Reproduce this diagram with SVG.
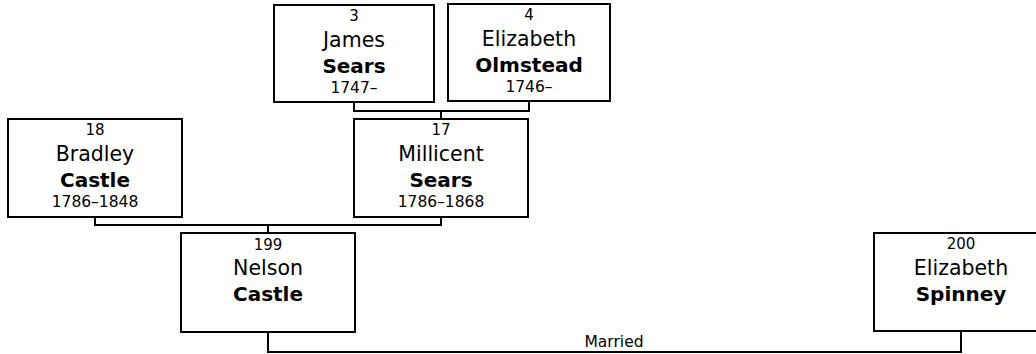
<svg xmlns="http://www.w3.org/2000/svg" width="1036" height="354" viewBox="0 0 1036 354">
<style>
.box{fill:#fff;stroke:#000;stroke-width:2}
.con{fill:none;stroke:#000;stroke-width:2}
text{font-family:"DejaVu Sans","Liberation Sans",sans-serif;fill:#000;text-anchor:middle}
.num{font-size:15px}
.fn{font-size:20.5px}
.sn{font-size:20px;font-weight:bold}
.dt{font-size:15.5px}
.lbl{font-size:15.5px}
</style>
<rect width="1036" height="354" fill="#fff"/>
<g id="connectors">
<polyline class="con" points="354,102 354,111 529,111 529,101"/>
<line class="con" x1="441" y1="111" x2="441" y2="119"/>
<polyline class="con" points="95,217 95,225 441,225 441,217"/>
<line class="con" x1="268" y1="225" x2="268" y2="233"/>
<polyline class="con" points="268,332 268,352 961,352 961,331"/>
<text class="lbl" x="614" y="347">Married</text>
</g>
<g id="p3">
<rect class="box" x="274" y="5" width="160" height="97"/>
<text class="num" x="354" y="21">3</text>
<text class="fn" x="354" y="47">James</text>
<text class="sn" x="354" y="73">Sears</text>
<text class="dt" x="354" y="93">1747–</text>
</g>
<g id="p4">
<rect class="box" x="448" y="4" width="162" height="97"/>
<text class="num" x="529" y="20">4</text>
<text class="fn" x="529" y="46">Elizabeth</text>
<text class="sn" x="529" y="72">Olmstead</text>
<text class="dt" x="529" y="92">1746–</text>
</g>
<g id="p18">
<rect class="box" x="8" y="119" width="174" height="98"/>
<text class="num" x="95" y="135">18</text>
<text class="fn" x="95" y="161">Bradley</text>
<text class="sn" x="95" y="187">Castle</text>
<text class="dt" x="95" y="207">1786–1848</text>
</g>
<g id="p17">
<rect class="box" x="354" y="119" width="174" height="98"/>
<text class="num" x="441" y="135">17</text>
<text class="fn" x="441" y="161">Millicent</text>
<text class="sn" x="441" y="187">Sears</text>
<text class="dt" x="441" y="207">1786–1868</text>
</g>
<g id="p199">
<rect class="box" x="181" y="233" width="174" height="99"/>
<text class="num" x="268" y="250">199</text>
<text class="fn" x="268" y="275">Nelson</text>
<text class="sn" x="268" y="301">Castle</text>
</g>
<g id="p200">
<rect class="box" x="874" y="233" width="174" height="98"/>
<text class="num" x="961" y="249">200</text>
<text class="fn" x="961" y="275">Elizabeth</text>
<text class="sn" x="961" y="301">Spinney</text>
</g>
</svg>
